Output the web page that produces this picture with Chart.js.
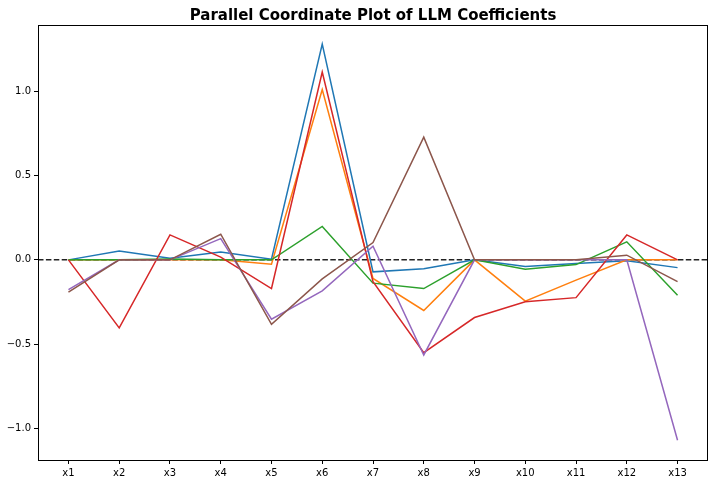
<!DOCTYPE html>
<html>
<head>
<meta charset="utf-8">
<script src="https://cdn.jsdelivr.net/npm/chart.js@4"></script>
<style>
  body { margin: 0; background: #fff; }
  #wrap { width: 715px; height: 484px; }
</style>
</head>
<body>
<div id="wrap"><canvas id="chart" width="715" height="484"></canvas></div>
<script>
// coefficients per feature, one array per model
const features = ["x1", "x2", "x3", "x4", "x5", "x6", "x7", "x8", "x9", "x10", "x11", "x12", "x13"];
const blueVals   = [0, 0.052, 0.01, 0.046, 0.004, 1.28, -0.071, -0.052, 0, -0.04, -0.022, -0.005, -0.046];
const orangeVals = [0, 0, 0, 0, -0.026, 1.01, -0.11, -0.30, 0, -0.245, -0.12, 0, 0];
const greenVals  = [0, 0, 0.005, 0, 0, 0.198, -0.138, -0.17, 0, -0.055, -0.028, 0.107, -0.21];
const redVals    = [0, -0.404, 0.148, 0.016, -0.17, 1.114, -0.13, -0.55, -0.342, -0.249, -0.224, 0.148, 0];
const purpleVals = [-0.176, 0, 0, 0.126, -0.352, -0.184, 0.081, -0.564, 0, 0, 0, 0, -1.07];
const brownVals  = [-0.192, 0, 0, 0.152, -0.382, -0.113, 0.103, 0.728, 0, 0, 0, 0.028, -0.129];
const yTicks = [-1.0, -0.5, 0.0, 0.5, 1.0];

function pts(vals) {
  return vals.map(function (v, i) { return { x: i, y: v }; });
}

function line(vals, color, order) {
  return {
    data: pts(vals),
    borderColor: color,
    borderWidth: 1.5,
    pointRadius: 0,
    tension: 0,
    fill: false,
    order: order
  };
}

const frame = {
  id: "frame",
  afterDraw: function (chart) {
    const ctx = chart.ctx;
    const a = chart.chartArea;
    ctx.save();
    ctx.strokeStyle = "#000";
    ctx.lineWidth = 1;
    ctx.strokeRect(Math.round(a.left) + 0.5, Math.round(a.top) + 0.5,
      Math.round(a.right - a.left) - 1, Math.round(a.bottom - a.top));
    ctx.fillStyle = "#000";
    ctx.font = "bold 15px 'DejaVu Sans'";
    ctx.textAlign = "center";
    ctx.textBaseline = "alphabetic";
    ctx.fillText("Parallel Coordinate Plot of LLM Coefficients", (a.left + a.right) / 2, 20);
    ctx.restore();
  }
};

const ctx = document.getElementById("chart").getContext("2d");
const myChart = new Chart(ctx, {
  type: "line",
  data: {
    datasets: [
      {
        data: [{ x: -0.6, y: 0 }, { x: 12.6, y: 0 }],
        borderColor: "#222",
        borderWidth: 1.5,
        borderDash: [5.5, 2.4],
        pointRadius: 0,
        order: 10
      },
      line(blueVals, "#1f77b4", 6),
      line(orangeVals, "#ff7f0e", 5),
      line(greenVals, "#2ca02c", 4),
      line(redVals, "#d62728", 3),
      line(purpleVals, "#9467bd", 2),
      line(brownVals, "#8c564b", 1)
    ]
  },
  options: {
    responsive: false,
    animation: false,
    layout: { padding: { top: 25, right: 7, left: 0, bottom: 0 } },
    plugins: {
      legend: { display: false },
      tooltip: { enabled: false },
      title: { display: false }
    },
    scales: {
      x: {
        type: "linear",
        min: -0.6,
        max: 12.6,
        afterBuildTicks: function (scale) {
          scale.ticks = features.map(function (_, i) { return { value: i }; });
        },
        afterFit: function (scale) { scale.height = 24; },
        ticks: {
          color: "#000",
          font: { family: "DejaVu Sans", size: 10 },
          padding: 3,
          maxRotation: 0,
          autoSkip: false,
          callback: function (v) { return features[v]; }
        },
        grid: { display: true, drawOnChartArea: false, tickLength: 4, color: "#000" },
        border: { display: false }
      },
      y: {
        type: "linear",
        min: -1.187,
        max: 1.393,
        afterBuildTicks: function (scale) {
          scale.ticks = yTicks.map(function (v) { return { value: v }; });
        },
        afterFit: function (scale) { scale.width = 38; },
        ticks: {
          color: "#000",
          font: { family: "DejaVu Sans", size: 10 },
          padding: 3,
          callback: function (v) { return v.toFixed(1).replace("-", "\u2212"); }
        },
        grid: { display: true, drawOnChartArea: false, tickLength: 4, color: "#000" },
        border: { display: false }
      }
    }
  },
  plugins: [frame]
});
</script>
</body>
</html>
